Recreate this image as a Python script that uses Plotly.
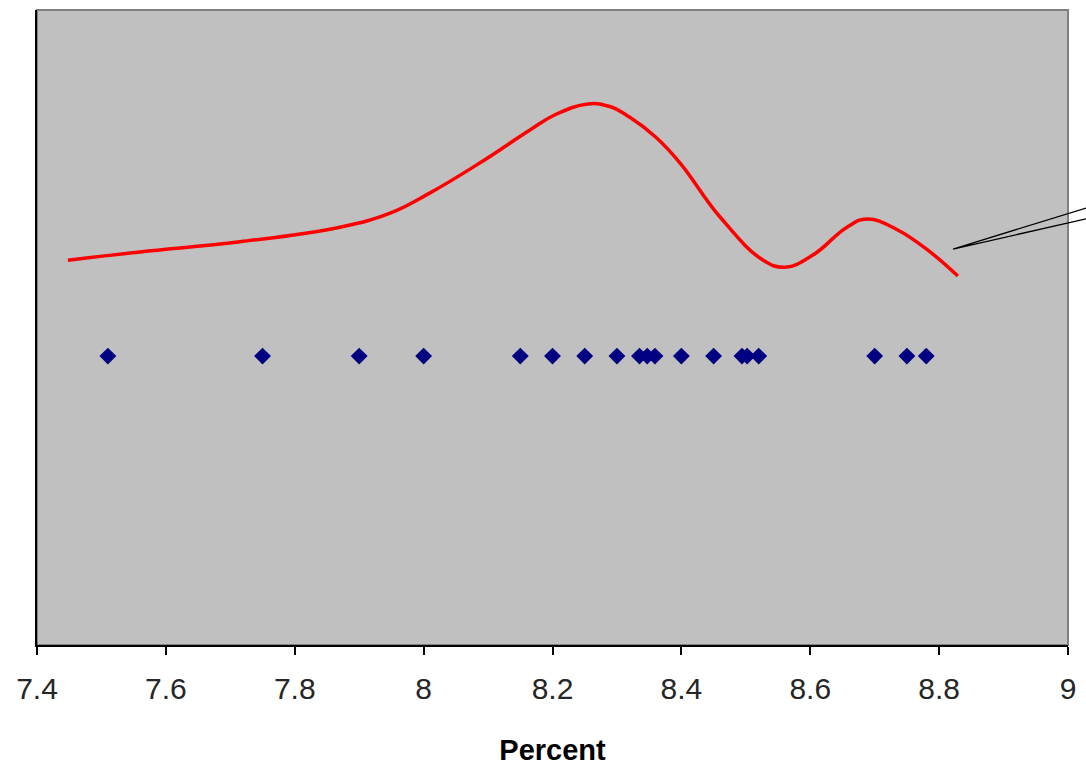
import plotly.graph_objects as go

# Observed rates (percent), one diamond per observation
obs_x = [7.51, 7.75, 7.90, 8.00, 8.15, 8.20, 8.25, 8.30, 8.335, 8.347, 8.359,
         8.40, 8.45, 8.494, 8.502, 8.52, 8.70, 8.75, 8.78]
obs_level = 0.455

# Smoothed density curve
curve_x = [7.448, 7.560, 7.715, 7.870, 7.948, 8.010, 8.087, 8.165, 8.204, 8.255,
           8.289, 8.320, 8.360, 8.398, 8.460, 8.527, 8.561, 8.604, 8.657, 8.688,
           8.735, 8.786, 8.829]
curve_y = [0.606, 0.619, 0.635, 0.658, 0.680, 0.712, 0.759, 0.811, 0.835, 0.852,
           0.848, 0.831, 0.800, 0.759, 0.674, 0.606, 0.595, 0.614, 0.658, 0.671,
           0.654, 0.619, 0.581]

tick_vals = [7.4, 7.6, 7.8, 8.0, 8.2, 8.4, 8.6, 8.8, 9.0]
tick_text = ["7.4", "7.6", "7.8", "8", "8.2", "8.4", "8.6", "8.8", "9"]

FONT = "Liberation Sans, Arial, sans-serif"

fig = go.Figure()
fig.add_trace(go.Scatter(
    x=curve_x, y=curve_y, mode="lines",
    line=dict(color="#FF0000", width=3.5, shape="spline", smoothing=1.2),
    hoverinfo="skip", showlegend=False,
))
fig.add_trace(go.Scatter(
    x=obs_x, y=[obs_level] * len(obs_x), mode="markers",
    marker=dict(symbol="diamond", size=13, color="#000080", line=dict(width=0)),
    showlegend=False,
))

# Plot-area frame and the callout leader running off to the right
fig.add_shape(type="rect", xref="paper", yref="paper", x0=0, y0=0, x1=1, y1=1,
              line=dict(color="#808080", width=2), layer="below")
fig.add_shape(type="path", xref="paper", yref="paper",
              path="M 1.0175 0.688 L 0.8885 0.6236 L 1.0175 0.671",
              line=dict(color="#000000", width=1.3))

fig.update_layout(
    width=1086, height=771,
    margin=dict(l=37, r=18, t=10, b=126),
    paper_bgcolor="white", plot_bgcolor="#C0C0C0",
    font=dict(family=FONT, color="#000000"),
    xaxis=dict(
        range=[7.4, 9.0], tickvals=tick_vals, ticktext=tick_text,
        showgrid=False, zeroline=False, showline=True, linecolor="#000000", linewidth=2,
        ticks="outside", ticklen=8, tickwidth=2, tickcolor="#000000",
        ticklabelstandoff=8,
        tickfont=dict(family=FONT, size=30, color="#262626"),
        title=dict(text="<b>Percent</b>", font=dict(family=FONT, size=29, color="#000000"),
                   standoff=36),
    ),
    yaxis=dict(
        range=[0, 1], showticklabels=False, showgrid=False, zeroline=False,
        showline=True, linecolor="#000000", linewidth=2, ticks="",
    ),
)

fig.write_html("out.html")
